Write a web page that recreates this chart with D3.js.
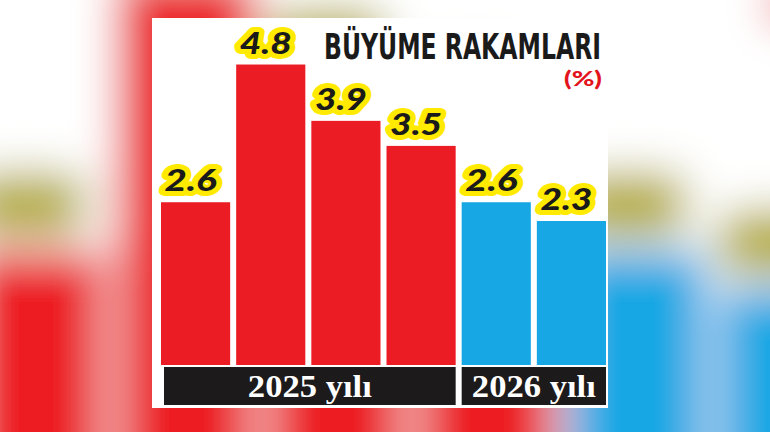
<!DOCTYPE html>
<html>
<head>
<meta charset="utf-8">
<script src="https://cdn.jsdelivr.net/npm/d3@7"></script>
<style>
  html, body { margin: 0; padding: 0; background: #fff; }
  svg { display: block; }
</style>
</head>
<body>
<svg width="770" height="432"></svg>
<script>
var svg = d3.select("svg"),
    width = 770,
    height = 432;

// data
var categories = ["2025-1", "2025-2", "2025-3", "2025-4", "2026-1", "2026-2"];
var values = [2.6, 4.8, 3.9, 3.5, 2.6, 2.3];
var valueLabels = ["2.6", "4.8", "3.9", "3.5", "2.6", "2.3"];
var years = ["2025", "2025", "2025", "2025", "2026", "2026"];
var yearLabels = ["2025 yılı", "2026 yılı"];

var colors = {"2025": "#ec1c24", "2026": "#17a7e4"};

var x = d3.scaleBand()
    .domain(categories)
    .range([161, 606])
    .paddingInner(0.08)
    .paddingOuter(0);

var y = d3.scaleLinear()
    .domain([0, 5])
    .range([365, 52]);

var rows = categories.map(function(c, i) {
  return {id: c, value: values[i], label: valueLabels[i], year: years[i]};
});

// blurred, enlarged copy behind the card
svg.append("defs").append("filter")
    .attr("id", "blur")
    .attr("filterUnits", "userSpaceOnUse")
    .attr("x", -300).attr("y", -300)
    .attr("width", 1400).attr("height", 1100)
  .append("feGaussianBlur")
    .attr("stdDeviation", 22);

svg.append("rect")
    .attr("width", width)
    .attr("height", height)
    .attr("fill", "#fff");

var back = svg.append("g")
    .attr("filter", "url(#blur)")
  .append("g")
    .attr("transform", "translate(-355,-154) scale(2)");

drawChart(back, true);
drawChart(svg.append("g"), false);

function drawChart(g, blurred) {
  g.append("rect")
      .attr("x", 152).attr("y", 18)
      .attr("width", 456).attr("height", 390)
      .attr("fill", "#fff");

  g.selectAll(".bar")
    .data(rows)
    .enter().append("rect")
      .attr("class", "bar")
      .attr("x", function(d) { return x(d.id); })
      .attr("y", function(d) { return y(d.value); })
      .attr("width", x.bandwidth())
      .attr("height", function(d) { return y(0) - y(d.value); })
      .attr("fill", function(d) { return colors[d.year]; });

  var lab = g.selectAll(".lab")
    .data(rows)
    .enter().append("g")
      .attr("class", "lab")
      .attr("transform", function(d) {
        return "translate(" + (x(d.id) + x.bandwidth() / 2 - 5) + "," + (y(d.value) - 11) + ")";
      });

  if (blurred) {
    // yellow mixed with black text turns olive once blurred
    lab.append("rect")
        .attr("x", -30).attr("y", -28)
        .attr("width", 60).attr("height", 32)
        .attr("rx", 12)
        .attr("fill", "#b3aa2c");
    g.append("rect")
        .attr("x", 563).attr("y", 70)
        .attr("width", 39).attr("height", 18)
        .attr("fill", "#e3131b")
        .attr("opacity", 0.7);
    return;
  }

  lab.append("text")
      .attr("x", 0).attr("y", 0)
      .attr("text-anchor", "middle")
      .attr("textLength", 52)
      .attr("lengthAdjust", "spacingAndGlyphs")
      .style("font-family", "Lato, Roboto, sans-serif")
      .style("font-weight", 900)
      .style("font-style", "italic")
      .style("font-size", "31px")
      .style("paint-order", "stroke")
      .attr("stroke", "#ffea00")
      .attr("stroke-width", 10)
      .attr("stroke-linejoin", "round")
      .attr("fill", "#1a1a1a")
      .text(function(d) { return d.label; });

  // title
  g.append("text")
      .attr("x", 601).attr("y", 59)
      .attr("text-anchor", "end")
      .attr("textLength", 277)
      .attr("lengthAdjust", "spacingAndGlyphs")
      .style("font-family", "'Liberation Sans Narrow', 'DejaVu Sans Condensed', sans-serif")
      .style("font-weight", "bold")
      .style("font-size", "36px")
      .attr("fill", "#1a1a1a")
      .text("BÜYÜME RAKAMLARI");

  g.append("text")
      .attr("x", 602).attr("y", 86)
      .attr("text-anchor", "end")
      .attr("textLength", 38)
      .attr("lengthAdjust", "spacingAndGlyphs")
      .style("font-family", "Lato, Roboto, sans-serif")
      .style("font-weight", 900)
      .style("font-size", "20px")
      .attr("fill", "#e3131b")
      .text("(%)");

  // year bars at the foot
  yearLabels.forEach(function(label, i) {
    var yr = label.slice(0, 4);
    var ids = rows.filter(function(d) { return d.year === yr; }).map(function(d) { return d.id; });
    var x0 = x(ids[0]) + (i === 0 ? 3 : 0),
        x1 = x(ids[ids.length - 1]) + x.bandwidth();
    g.append("rect")
        .attr("x", x0).attr("y", y(0) + 2)
        .attr("width", x1 - x0).attr("height", 38)
        .attr("fill", "#1c1a1b");
    g.append("text")
        .attr("x", (x0 + x1) / 2).attr("y", y(0) + 32)
        .attr("text-anchor", "middle")
        .attr("textLength", 124)
        .attr("lengthAdjust", "spacingAndGlyphs")
        .style("font-family", "'Liberation Serif', 'DejaVu Serif', serif")
        .style("font-weight", "bold")
        .style("font-size", "31px")
        .attr("fill", "#fff")
        .text(label);
  });
}
</script>
</body>
</html>
